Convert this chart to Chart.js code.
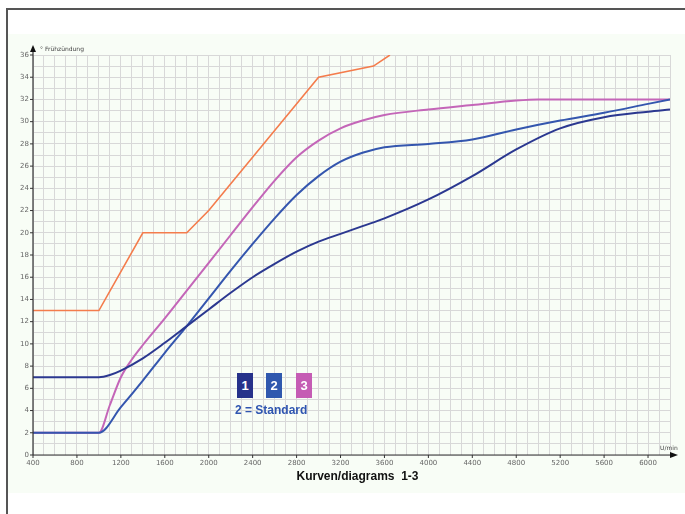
<!DOCTYPE html>
<html>
<head>
<meta charset="utf-8">
<script src="https://cdn.jsdelivr.net/npm/chart.js@4.4.1/dist/chart.umd.min.js"></script>
<style>
  body { margin: 0; background: #fff; }
  #wrap { position: relative; width: 685px; height: 514px; overflow: hidden; }
  #chart { position: absolute; left: 0; top: 0; }
  .box { position: absolute; top: 373px; width: 16px; height: 25px; color: #fff;
         font: bold 13px "Liberation Sans", Arial, sans-serif; text-align: center; line-height: 25px; }
  #std { position: absolute; left: 235px; top: 403px; color: #2f55b0;
         font: bold 12px "Liberation Sans", Arial, sans-serif; }
  #title { position: absolute; left: 0; width: 685px; top: 469px; text-align: center; color: #111;
           font: bold 12px "Liberation Sans", Arial, sans-serif; padding-left: 30px; box-sizing: border-box; }
  .lbl { position: absolute; color: #444; font: 6px "DejaVu Sans", sans-serif; }
</style>
</head>
<body>
<div id="wrap">
  <canvas id="chart" width="685" height="514"></canvas>
  <div class="box" style="left:237px;background:#26328a">1</div>
  <div class="box" style="left:266px;background:#2f58ae">2</div>
  <div class="box" style="left:296px;background:#c55cb4">3</div>
  <div id="std">2 = Standard</div>
  <div id="title">Kurven/diagrams&nbsp; 1-3</div>
  <div class="lbl" style="left:40px;top:45px">° Frühzündung</div>
  <div class="lbl" style="left:660px;top:444px">U/min</div>
</div>
<script>
// values (rpm -> degrees)
const rpmOrange = [400, 1000, 1400, 1800, 2000, 3000, 3500, 3650];
const degOrange = [13, 13, 20, 20, 22, 34, 35, 36];

const rpmCurve1 = [400, 1000, 1100, 1200, 1400, 1600, 1800, 2000, 2200, 2400, 2600, 2800, 3000, 3200, 3400, 3600, 4000, 4400, 4800, 5200, 5600, 6000, 6200];
const degCurve1 = [7, 7, 7.2, 7.6, 8.7, 10.1, 11.6, 13.1, 14.6, 16.0, 17.2, 18.3, 19.2, 19.9, 20.6, 21.3, 23, 25.1, 27.5, 29.4, 30.4, 30.9, 31.1];

const rpmCurve2 = [400, 1000, 1200, 1400, 1600, 1800, 2000, 2200, 2400, 2600, 2800, 3000, 3200, 3400, 3600, 4000, 4400, 4800, 5200, 5600, 6000, 6200];
const degCurve2 = [2, 2, 4.3, 6.7, 9.2, 11.6, 14.1, 16.6, 19.0, 21.3, 23.4, 25.1, 26.4, 27.2, 27.7, 28.0, 28.4, 29.3, 30.1, 30.8, 31.6, 32];

const rpmCurve3 = [400, 1000, 1100, 1200, 1300, 1400, 1600, 1800, 2000, 2200, 2400, 2600, 2800, 3000, 3200, 3400, 3600, 4000, 4400, 4800, 5000, 6200];
const degCurve3 = [2, 2, 4.5, 7, 8.6, 9.9, 12.3, 14.8, 17.3, 19.8, 22.3, 24.7, 26.8, 28.3, 29.4, 30.1, 30.6, 31.1, 31.5, 31.9, 32, 32];

const xTicks = [400, 800, 1200, 1600, 2000, 2400, 2800, 3200, 3600, 4000, 4400, 4800, 5200, 5600, 6000];
const yTicks = [0, 2, 4, 6, 8, 10, 12, 14, 16, 18, 20, 22, 24, 26, 28, 30, 32, 34, 36];

function pts(xs, ys) { return xs.map((x, i) => ({ x: x, y: ys[i] })); }

// frame, background, axes with arrows, small tick marks
const framePlugin = {
  id: 'frame',
  beforeDraw(chart) {
    const c = chart.ctx;
    c.save();
    c.fillStyle = '#f8fdf6';
    c.fillRect(7, 34, 678, 459);
    c.fillStyle = '#555';
    c.fillRect(6, 8, 679, 2);
    c.fillRect(6, 8, 2, 506);
    c.restore();
  },
  afterDraw(chart) {
    const c = chart.ctx;
    const xs = chart.scales.x, ys = chart.scales.y;
    const x0 = xs.getPixelForValue(400), y0 = ys.getPixelForValue(0);
    c.save();
    c.strokeStyle = '#333';
    c.fillStyle = '#111';
    c.lineWidth = 1.2;
    c.beginPath();
    c.moveTo(x0, y0); c.lineTo(672, y0);
    c.moveTo(x0, y0); c.lineTo(x0, 50);
    c.stroke();
    c.beginPath();
    c.moveTo(678, y0); c.lineTo(670, y0 - 3); c.lineTo(670, y0 + 3); c.closePath(); c.fill();
    c.beginPath();
    c.moveTo(x0, 45); c.lineTo(x0 - 3, 52); c.lineTo(x0 + 3, 52); c.closePath(); c.fill();
    c.lineWidth = 1;
    c.beginPath();
    yTicks.forEach(v => { const p = ys.getPixelForValue(v); c.moveTo(x0 - 3, p); c.lineTo(x0, p); });
    xTicks.forEach(v => { const p = xs.getPixelForValue(v); c.moveTo(p, y0); c.lineTo(p, y0 + 3); });
    c.stroke();
    c.restore();
  }
};

const ctx = document.getElementById('chart').getContext('2d');
new Chart(ctx, {
  type: 'line',
  data: {
    datasets: [
      { label: 'Orange', data: pts(rpmOrange, degOrange), borderColor: '#f47c4c', borderWidth: 1.6, tension: 0 },
      { label: '1', data: pts(rpmCurve1, degCurve1), borderColor: '#2b3890', borderWidth: 2, cubicInterpolationMode: 'monotone' },
      { label: '2', data: pts(rpmCurve2, degCurve2), borderColor: '#3456ae', borderWidth: 2, cubicInterpolationMode: 'monotone' },
      { label: '3', data: pts(rpmCurve3, degCurve3), borderColor: '#c466b8', borderWidth: 2, cubicInterpolationMode: 'monotone' }
    ]
  },
  options: {
    responsive: false,
    animation: false,
    elements: { point: { radius: 0 } },
    layout: { padding: { left: 13, top: 55, right: 15, bottom: 39 } },
    plugins: { legend: { display: false }, tooltip: { enabled: false } },
    scales: {
      x: {
        type: 'linear', min: 400, max: 6200,
        afterFit: s => { s.height = 20; },
        border: { display: false },
        grid: { color: '#d8d8d8', lineWidth: 1, drawTicks: false },
        ticks: {
          stepSize: 100, maxTicksLimit: 100, autoSkip: false, maxRotation: 0, padding: 4,
          color: '#666', font: { size: 7, family: 'DejaVu Sans' },
          callback: v => xTicks.includes(v) ? String(v) : ''
        }
      },
      y: {
        min: 0, max: 36,
        afterFit: s => { s.width = 20; },
        border: { display: false },
        grid: { color: '#d8d8d8', lineWidth: 1, drawTicks: false },
        ticks: {
          stepSize: 1, maxTicksLimit: 100, autoSkip: false, padding: 4,
          color: '#666', font: { size: 7, family: 'DejaVu Sans' },
          callback: v => yTicks.includes(v) ? String(v) : ''
        }
      }
    }
  },
  plugins: [framePlugin]
});
</script>
</body>
</html>
